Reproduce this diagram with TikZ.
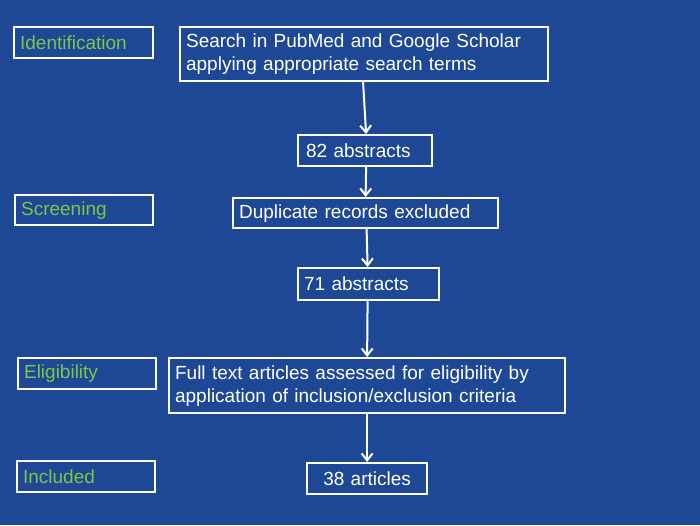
\documentclass[tikz,border=0pt]{standalone}
\usepackage{fontspec}
\setmainfont{Liberation Sans}
\usetikzlibrary{arrows.meta}
\definecolor{bgblue}{RGB}{30,72,150}
\definecolor{labgreen}{RGB}{126,196,70}
\tikzset{
  box/.style={draw=white, line width=2.2pt, text=white, anchor=north west,
    align=left, inner xsep=6pt, inner ysep=0pt,
    font=\fontsize{19}{23}\selectfont},
  stage/.style={box, text=labgreen},
  flow/.style={draw=white, line width=2pt, -{Straight Barb[length=7pt,width=11pt,line width=2pt]}}
}
\begin{document}
\begin{tikzpicture}[x=1pt,y=-1pt]
\fill[bgblue] (0,0) rectangle (700,525);
\useasboundingbox (0,0) rectangle (700,525);
\node[stage, text width=127pt, minimum height=31pt] (ident) at (13,26) {Identification};
\node[box, text width=356pt, minimum height=54pt] (search) at (179,26) {Search in PubMed and Google Scholar\\applying appropriate search terms};
\node[box, text width=122pt, minimum height=31pt, inner xsep=8pt, text width=118pt] (n82) at (297,134) {82 abstracts};
\node[stage, text width=126pt, minimum height=30pt] (screen) at (14,194) {Screening};
\node[box, text width=253pt, minimum height=30pt] (dup) at (232,197) {Duplicate records excluded};
\node[box, text width=129pt, minimum height=32pt] (n71) at (297,267) {71 abstracts};
\node[stage, text width=126pt, minimum height=31pt] (elig) at (17,357) {Eligibility};
\node[box, text width=384pt, minimum height=55pt] (full) at (168,357) {Full text articles assessed for eligibility by\\application of inclusion/exclusion criteria};
\node[stage, text width=126pt, minimum height=31pt] (incl) at (16,460) {Included};
\node[box, text width=108pt, minimum height=31pt, align=center] (n38) at (306,462) {38 articles};
\draw[flow] ([xshift=-1pt]search.south) -- ([xshift=1pt]n82.north);
\draw[flow] ([xshift=1pt]n82.south) -- (dup.north);
\draw[flow] ([xshift=1pt]dup.south) -- ([xshift=-1pt]n71.north);
\draw[flow] ([xshift=-1pt]n71.south) -- (full.north);
\draw[flow] (full.south) -- (n38.north);
\end{tikzpicture}
\end{document}
